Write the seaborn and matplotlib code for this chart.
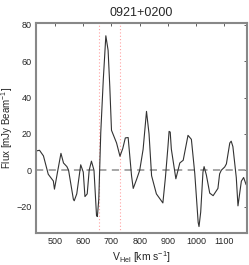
import numpy as np
import pandas as pd
import matplotlib
matplotlib.use("Agg")
import matplotlib.pyplot as plt
import seaborn as sns

# velocity (km/s) and flux (mJy/beam)
velocity = [433, 445, 459, 476, 494, 498, 510, 521, 530, 542, 548, 565, 568, 577,
            591, 600, 606, 614, 621, 629, 638, 647, 650, 655, 662, 671, 680, 688,
            694, 700, 718, 730, 740, 749, 759, 771, 777, 789, 800, 812, 824, 833,
            842, 859, 882, 891, 900, 904, 908, 912, 928, 942, 954, 971, 983, 995,
            1007, 1010, 1016, 1024, 1028, 1036, 1048, 1060, 1077, 1083, 1089,
            1101, 1107, 1119, 1124, 1130, 1142, 1148, 1160, 1168, 1177]
flux = [10.6, 11, 7.9, -2.2, -5.9, -10.4, 0, 9.3, 4, 2, 0, -16, -16.8, -13,
        3, -1, -14.5, -13, 0, 5, 0, -25, -25.5, -16, 20.7, 50, 74, 66,
        46, 22, 15, 7.7, 12, 17.8, 18, -3, -10, -5, 0, 11.5, 32.4, 20,
        -3, -13, -18, -4, 13, 21.4, 21, 11.6, -4.7, 4, 5.5, 19.2, 17, -1.8,
        -28.7, -31, -23, -1, 2, -2.6, -12.6, -14, -10, -2, 0,
        1.8, 3.5, 15, 16, 13, -4, -19.6, -6, -4, -8]

source_name = "0921+0200"
line_edges = [655, 730]

df = pd.DataFrame({"vel": velocity, "flux": flux})

sns.set_style("white")
plt.rcParams["font.family"] = ["Liberation Sans", "DejaVu Sans"]
plt.rcParams["mathtext.fontset"] = "custom"
plt.rcParams["mathtext.rm"] = "Liberation Sans"
plt.rcParams["mathtext.it"] = "Liberation Sans"

fig = plt.figure(figsize=(2.49, 2.65), dpi=100)
ax = fig.add_axes([0.145, 0.121, 0.847, 0.792])

sns.lineplot(x="vel", y="flux", data=df, ax=ax, color="#333333", linewidth=0.8)
ax.axhline(0, color="#a0a0a0", linestyle=(0, (4, 3)), linewidth=1.3, zorder=1)
for v in line_edges:
    ax.axvline(v, color="#ffa0a0", linestyle=(0, (1, 2)), linewidth=0.8, zorder=1)

ax.set_xlim(433, 1180)
ax.set_ylim(-34.5, 81)
ax.set_xticks([500, 600, 700, 800, 900, 1000, 1100])
ax.set_yticks([-20, 0, 20, 40, 60, 80])
ax.tick_params(direction="in", length=2.5, width=0.6, labelsize=6.5,
               top=True, right=True, color="#444444", pad=3)

for s in ax.spines.values():
    s.set_color("#888888")
    s.set_linewidth(1.5)

ax.set_title(source_name, fontsize=9, pad=5)
ax.set_xlabel(r"V$_{\mathrm{Hel}}$ [km s$^{-1}$]", fontsize=7.5, labelpad=2)
ax.set_ylabel(r"Flux [mJy Beam$^{-1}$]", fontsize=7, labelpad=1)

fig.savefig("out.png", dpi=100)
